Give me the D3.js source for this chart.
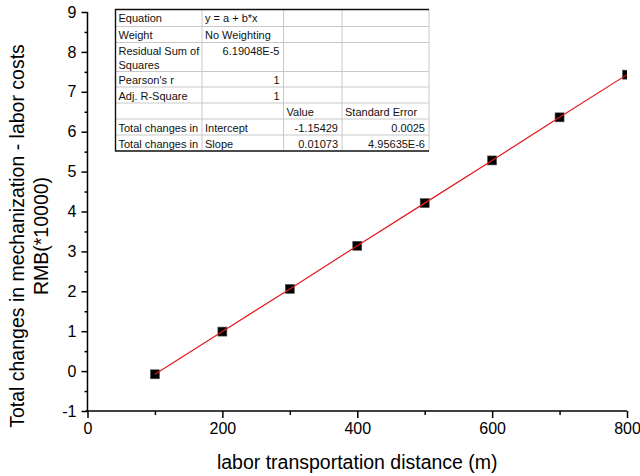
<!DOCTYPE html>
<html>
<head>
<meta charset="utf-8">
<script src="https://cdn.jsdelivr.net/npm/d3@7/dist/d3.min.js"></script>
<style>
  html, body { margin: 0; padding: 0; background: #fff; }
  svg { display: block; font-family: "Liberation Sans", Arial, sans-serif; }
</style>
</head>
<body>
<svg id="chart" width="640" height="476"></svg>
<script>
// ---- data ----
const distances = [100, 200, 300, 400, 500, 600, 700, 800];
const costChanges = [-0.08, 0.99, 2.06, 3.14, 4.21, 5.28, 6.36, 7.43];
const xTicks = [0, 200, 400, 600, 800];
const xMinorTicks = [100, 300, 500, 700];
const yTicks = [-1, 0, 1, 2, 3, 4, 5, 6, 7, 8, 9];
const yMinorTicks = [-0.5, 0.5, 1.5, 2.5, 3.5, 4.5, 5.5, 6.5, 7.5, 8.5];
const xTitle = "labor transportation distance (m)";
const yTitleLines = ["Total changes in mechanization - labor costs", "RMB(*10000)"];
// fit table rows: [col1, col2, col3, col4]
const tableRows = [
  ["Equation", "y = a + b*x", "", ""],
  ["Weight", "No Weighting", "", ""],
  ["Residual Sum of\nSquares", "6.19048E-5", "", ""],
  ["Pearson's r", "1", "", ""],
  ["Adj. R-Square", "1", "", ""],
  ["", "", "Value", "Standard Error"],
  ["Total changes in", "Intercept", "-1.15429", "0.0025"],
  ["Total changes in", "Slope", "0.01073", "4.95635E-6"]
];
// alignment of each cell: l = left, r = right
const tableAlign = [
  ["l", "l", "l", "l"],
  ["l", "l", "l", "l"],
  ["l", "r", "l", "l"],
  ["l", "r", "l", "l"],
  ["l", "r", "l", "l"],
  ["l", "l", "l", "l"],
  ["l", "l", "r", "r"],
  ["l", "l", "r", "r"]
];

// ---- layout ----
const svg = d3.select("#chart");
const x = d3.scaleLinear().domain([0, 800]).range([87.5, 627]);
const y = d3.scaleLinear().domain([-1, 9]).range([411, 12]);

svg.append("defs").append("clipPath").attr("id", "plotclip")
  .append("rect").attr("x", x(0)).attr("y", y(9) - 10)
  .attr("width", x(800) - x(0)).attr("height", y(-1) - y(9) + 10);

const fmt = d => String(d);
// axes
const xAxis = svg.append("g").attr("transform", `translate(0,${y(-1)})`)
  .call(d3.axisBottom(x).tickValues(xTicks).tickSize(7).tickPadding(5).tickFormat(fmt));
const xMinor = svg.append("g").attr("transform", `translate(0,${y(-1)})`)
  .call(d3.axisBottom(x).tickValues(xMinorTicks).tickSize(4).tickFormat(""));
const yAxis = svg.append("g").attr("transform", `translate(${x(0)},0)`)
  .call(d3.axisLeft(y).tickValues(yTicks).tickSize(6).tickPadding(5).tickFormat(fmt));
const yMinor = svg.append("g").attr("transform", `translate(${x(0)},0)`)
  .call(d3.axisLeft(y).tickValues(yMinorTicks).tickSize(3).tickFormat(""));

[xAxis, xMinor, yAxis, yMinor].forEach(g => {
  g.selectAll("path.domain").attr("stroke", "#000").attr("stroke-width", 1.5);
  g.selectAll(".tick line").attr("stroke", "#000").attr("stroke-width", 1.5);
  g.selectAll(".tick text").attr("fill", "#000").style("font-size", "16px")
    .style("font-family", "'Liberation Sans', Arial, sans-serif");
});
xAxis.selectAll("path.domain").attr("d", `M${x(0) - 2},0H${x(800)}`);
xMinor.select("path.domain").remove();
yMinor.select("path.domain").remove();
yAxis.selectAll("path.domain").attr("d", `M0,${y(-1)}V${y(9)}`);

// titles
svg.append("text")
  .attr("x", (x(0) + x(800)) / 2).attr("y", 469)
  .attr("text-anchor", "middle").style("font-size", "19.5px").attr("fill", "#000")
  .text(xTitle);
const yTitleCenter = 236;
const yTitleBase = [24, 48];
yTitleLines.forEach((t, i) => {
  svg.append("text")
    .attr("transform", `translate(${yTitleBase[i]},${yTitleCenter}) rotate(-90)`)
    .attr("text-anchor", "middle").style("font-size", "19.5px").attr("fill", "#000")
    .text(t);
});

// data
const plot = svg.append("g").attr("clip-path", "url(#plotclip)");
const pts = distances.map((d, i) => [d, costChanges[i]]);
plot.selectAll("rect.pt").data(pts).enter().append("rect")
  .attr("class", "pt")
  .attr("x", d => x(d[0]) - 4.5).attr("y", d => y(d[1]) - 4.5)
  .attr("width", 9).attr("height", 9)
  .attr("fill", "#000").attr("stroke", "#555").attr("stroke-width", 0.6);
plot.append("path")
  .datum(pts)
  .attr("fill", "none").attr("stroke", "#e41a1c").attr("stroke-width", 1.2)
  .attr("d", d3.line().x(d => x(d[0])).y(d => y(d[1])));

// table
const colX = [115.5, 202, 283.5, 342, 429];
const rowY = [9.5, 26.5, 42.5, 71.5, 87, 103, 119, 135, 151];
const tg = svg.append("g").style("font-size", "11px");
tg.append("rect").attr("x", colX[0]).attr("y", rowY[0])
  .attr("width", colX[4] - colX[0]).attr("height", rowY[8] - rowY[0]).attr("fill", "#fff");
// interior lines
for (let i = 1; i < rowY.length - 1; i++) {
  tg.append("line").attr("x1", colX[0]).attr("x2", colX[4]).attr("y1", rowY[i]).attr("y2", rowY[i])
    .attr("stroke", "#c8c8c8").attr("stroke-width", 1);
}
for (let j = 1; j < colX.length; j++) {
  tg.append("line").attr("x1", colX[j]).attr("x2", colX[j]).attr("y1", rowY[0]).attr("y2", rowY[8])
    .attr("stroke", "#c8c8c8").attr("stroke-width", 1);
}
// outer dark borders: top, left, bottom
tg.append("path").attr("d", `M${colX[4]},${rowY[0]}H${colX[0]}V${rowY[8]}H${colX[4]}`)
  .attr("fill", "none").attr("stroke", "#111").attr("stroke-width", 1.4);

tableRows.forEach((row, i) => {
  row.forEach((cell, j) => {
    if (!cell) return;
    const lines = cell.split("\n");
    const al = tableAlign[i][j];
    const tx = al === "l" ? colX[j] + 3 : colX[j + 1] - 4;
    const baseY = rowY[i] + 12.5;
    lines.forEach((ln, k) => {
      tg.append("text")
        .attr("x", tx).attr("y", baseY + k * 14)
        .attr("text-anchor", al === "l" ? "start" : "end")
        .attr("fill", "#111")
        .text(ln);
    });
  });
});
</script>
</body>
</html>
